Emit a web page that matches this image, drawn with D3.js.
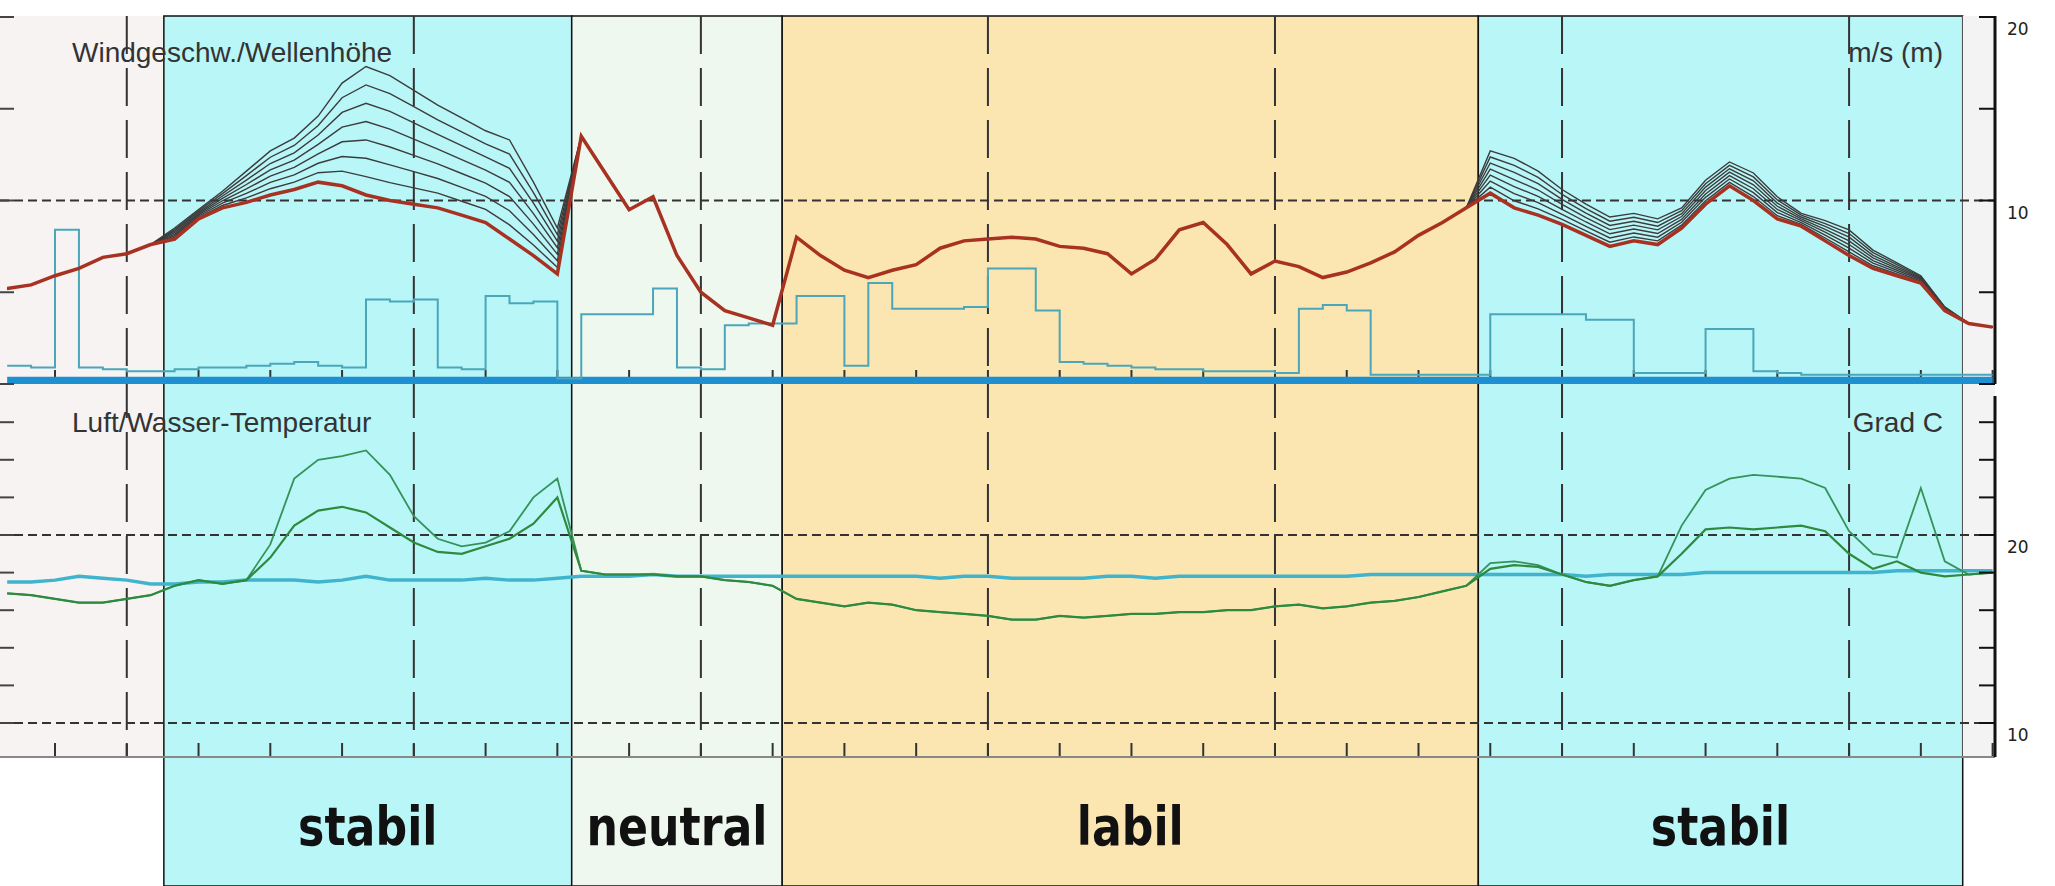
<!DOCTYPE html>
<html>
<head>
<meta charset="utf-8">
<script src="https://cdn.jsdelivr.net/npm/d3@7"></script>
<style>
  body { margin: 0; background: #fff; }
  svg { display: block; }
</style>
</head>
<body>
<div id="chart"></div>
<script>
// hours, every 2 h from -10 to 156 (midnight at 0, 24, 48 ...)
var hours = d3.range(-10, 157, 2);

// regimes
var regimes = [
  { name: "", start: -10.6, end: 3.1, fill: "#f7f3f3", box: false },
  { name: "stabil", start: 3.1, end: 37.2, fill: "#b9f6f8", box: true },
  { name: "neutral", start: 37.2, end: 54.8, fill: "#eef8ee", box: true },
  { name: "labil", start: 54.8, end: 113.0, fill: "#fbe6b2", box: true },
  { name: "stabil", start: 113.0, end: 153.5, fill: "#b9f6f8", box: true },
  { name: "", start: 153.5, end: 156.2, fill: "#f3f3f3", box: false }
];

// wind speed, lowest (red) level, m/s
var windRed = [5.2,5.4,5.9,6.3,6.9,7.1,7.6,7.9,9.0,9.6,9.9,10.3,10.6,11.0,10.8,10.3,10.0,9.8,9.6,9.2,8.8,7.9,7.0,6.0,
  13.5,11.5,9.5,10.2,7.0,5.0,4.0,3.6,3.2,
  8.0,7.0,6.2,5.8,6.2,6.5,7.4,7.8,7.9,8.0,7.9,7.5,7.4,7.1,6.0,6.8,8.4,8.8,7.6,6.0,6.7,6.4,5.8,6.1,6.6,7.2,8.1,8.8,9.6,
  10.4,9.6,9.2,8.7,8.1,7.5,7.8,7.6,8.5,9.8,10.8,10.0,9.0,8.6,7.8,7.0,6.3,5.9,5.5,4.0,3.3,3.1];
// wind speed, highest level, m/s
var windTop = [5.2,5.4,5.9,6.3,6.9,7.1,7.6,8.5,9.5,10.5,11.6,12.7,13.4,14.6,16.4,17.3,16.8,16.0,15.2,14.5,13.8,13.3,11.0,8.5,
  13.5,11.5,9.5,10.2,7.0,5.0,4.0,3.6,3.2,
  8.0,7.0,6.2,5.8,6.2,6.5,7.4,7.8,7.9,8.0,7.9,7.5,7.4,7.1,6.0,6.8,8.4,8.8,7.6,6.0,6.7,6.4,5.8,6.1,6.6,7.2,8.1,8.8,9.6,
  12.7,12.3,11.6,10.6,9.8,9.1,9.3,9.0,9.6,11.1,12.1,11.5,10.2,9.3,8.9,8.4,7.3,6.6,5.9,4.2,3.3,3.1];
// wave height, m
var wave = [1.0,0.9,8.4,0.9,0.8,0.7,0.7,0.8,0.9,0.9,1.0,1.1,1.2,1.0,0.9,4.6,4.5,4.6,0.9,0.8,4.8,4.4,4.5,0.3,
  3.8,3.8,3.8,5.2,0.9,0.8,3.2,3.3,3.3,
  4.8,4.8,1.0,5.5,4.1,4.1,4.1,4.2,6.3,6.3,4.0,1.2,1.1,1.0,0.9,0.8,0.8,0.7,0.7,0.7,0.6,4.1,4.3,4.0,0.5,0.5,0.5,0.5,0.5,
  3.8,3.8,3.8,3.8,3.5,3.5,0.6,0.6,0.6,3.0,3.0,0.7,0.6,0.5,0.5,0.5,0.5,0.5,0.5,0.5,0.5,0.5];
var windTicks = [0, 5, 10, 15, 20];
var windLabels = [10, 20];

// air temperature (two sensors) and water temperature, Grad C
var airLow = [16.9,16.8,16.6,16.4,16.4,16.6,16.8,17.3,17.6,17.4,17.6,18.8,20.5,21.3,21.5,21.2,20.4,19.6,19.1,19.0,19.4,19.8,20.6,22.0,
  18.1,17.9,17.9,17.9,17.8,17.8,17.6,17.5,17.3,
  16.6,16.4,16.2,16.4,16.3,16.0,15.9,15.8,15.7,15.5,15.5,15.7,15.6,15.7,15.8,15.8,15.9,15.9,16.0,16.0,16.2,16.3,16.1,16.2,16.4,16.5,16.7,17.0,17.3,
  18.2,18.4,18.3,17.9,17.5,17.3,17.6,17.8,19.0,20.3,20.4,20.3,20.4,20.5,20.2,19.0,18.2,18.6,18.0,17.8,17.9,18.0];
var airTop = [16.9,16.8,16.6,16.4,16.4,16.6,16.8,17.3,17.6,17.4,17.6,19.5,23.0,24.0,24.2,24.5,23.2,21.0,19.8,19.4,19.6,20.2,22.0,23.0,
  18.1,17.9,17.9,17.9,17.8,17.8,17.6,17.5,17.3,
  16.6,16.4,16.2,16.4,16.3,16.0,15.9,15.8,15.7,15.5,15.5,15.7,15.6,15.7,15.8,15.8,15.9,15.9,16.0,16.0,16.2,16.3,16.1,16.2,16.4,16.5,16.7,17.0,17.3,
  18.5,18.6,18.4,17.9,17.5,17.3,17.6,17.8,20.5,22.4,23.0,23.2,23.1,23.0,22.5,20.2,19.0,18.8,22.5,18.6,17.9,18.0];
var water = [17.5,17.5,17.6,17.8,17.7,17.6,17.4,17.4,17.5,17.5,17.6,17.6,17.6,17.5,17.6,17.8,17.6,17.6,17.6,17.6,17.7,17.6,17.6,17.7,
  17.8,17.8,17.8,17.9,17.8,17.8,17.8,17.8,17.8,
  17.8,17.8,17.8,17.8,17.8,17.8,17.7,17.8,17.8,17.7,17.7,17.7,17.7,17.8,17.8,17.7,17.8,17.8,17.8,17.8,17.8,17.8,17.8,17.8,17.9,17.9,17.9,17.9,17.9,
  17.9,17.9,17.9,17.9,17.8,17.9,17.9,17.9,17.9,18.0,18.0,18.0,18.0,18.0,18.0,18.0,18.0,18.1,18.1,18.1,18.1,18.1];
var tempTicks = [10, 12, 14, 16, 18, 20, 22, 24, 26];
var tempLabels = [10, 20];

var W = 2055, H = 886;
var plotRight = 1995;
var svg = d3.select("#chart").append("svg").attr("width", W).attr("height", H);

var x = d3.scaleLinear().domain([-10.6, 156.2]).range([0, plotRight]);
var yWind = d3.scaleLinear().domain([0, 20]).range([384, 17]);
var yTemp = d3.scaleLinear().domain([10, 20]).range([723, 535]);
var topA = 16, topB = 384, botA = 396, botB = 757;

// backgrounds
regimes.forEach(function (r) {
  svg.append("rect")
    .attr("x", x(r.start)).attr("y", topA)
    .attr("width", x(r.end) - x(r.start))
    .attr("height", (r.box ? H : botB) - topA)
    .style("fill", r.fill)
    .style("stroke", r.box ? "#111" : "none")
    .style("stroke-width", 1.5);
});

// day lines
d3.range(0, 157, 24).forEach(function (h) {
  svg.append("line").attr("x1", x(h)).attr("x2", x(h)).attr("y1", topA).attr("y2", botB)
    .style("stroke", "#333").style("stroke-width", 2).style("stroke-dasharray", "38,14");
});

// horizontal reference lines
[[yWind(10)], [yTemp(20)], [yTemp(10)]].forEach(function (d) {
  svg.append("line").attr("x1", 0).attr("x2", plotRight).attr("y1", d[0]).attr("y2", d[0])
    .style("stroke", "#333").style("stroke-width", 2).style("stroke-dasharray", "9,5");
});

// 6 h ticks at panel bottoms
d3.range(-6, 157, 6).forEach(function (h) {
  [topB, botB].forEach(function (yb) {
    svg.append("line").attr("x1", x(h)).attr("x2", x(h)).attr("y1", yb - 14).attr("y2", yb)
      .style("stroke", "#333").style("stroke-width", 2);
  });
});
svg.append("line").attr("x1", 0).attr("x2", plotRight).attr("y1", botB).attr("y2", botB)
  .style("stroke", "#888").style("stroke-width", 2);

// ----- wind panel -----
var pts = hours.map(function (h, i) { return { h: h, i: i }; });

// wave base band
svg.append("path")
  .attr("d", d3.area().x(function (d) { return x(d.h); }).y0(yWind(0)).y1(yWind(0.4))(pts))
  .style("fill", "#1e8fd0");

svg.append("path")
  .attr("d", d3.line().curve(d3.curveStepAfter)
    .x(function (d) { return x(d.h); }).y(function (d) { return yWind(wave[d.i]); })(pts))
  .style("fill", "none").style("stroke", "#4aa6b8").style("stroke-width", 2);

// bundle of wind levels between lowest and highest sensor
var levels = d3.range(7, -1, -1).map(function (k) { return k / 7; });
levels.forEach(function (f) {
  svg.append("path")
    .attr("d", d3.line()
      .x(function (d) { return x(d.h); })
      .y(function (d) { return yWind(windRed[d.i] + f * (windTop[d.i] - windRed[d.i])); })(pts))
    .style("fill", "none")
    .style("stroke", f === 0 ? "#a83222" : "#3c3c3c")
    .style("stroke-width", f === 0 ? 3.5 : 1.4);
});

// ----- temperature panel -----
function tline(arr, color, w) {
  svg.append("path")
    .attr("d", d3.line()
      .x(function (d) { return x(d.h); }).y(function (d) { return yTemp(arr[d.i]); })(pts))
    .style("fill", "none").style("stroke", color).style("stroke-width", w);
}
tline(water, "#3fb4cc", 3.5);
tline(airTop, "#35935a", 1.8);
tline(airLow, "#2e8a3e", 2.2);

// right axes
function rightAxis(scale, ticks, labels, a, b) {
  svg.append("line").attr("x1", plotRight).attr("x2", plotRight).attr("y1", a).attr("y2", b)
    .style("stroke", "#111").style("stroke-width", 3);
  ticks.forEach(function (t) {
    var yy = scale(t);
    if (yy < a - 1 || yy > b + 1) return;
    svg.append("line").attr("x1", plotRight - 16).attr("x2", plotRight).attr("y1", yy).attr("y2", yy)
      .style("stroke", "#111").style("stroke-width", 2);
    svg.append("line").attr("x1", 0).attr("x2", 14).attr("y1", yy).attr("y2", yy)
      .style("stroke", "#444").style("stroke-width", 2);
  });
  labels.forEach(function (t) {
    svg.append("text").attr("x", plotRight + 12).attr("y", scale(t) + 18)
      .text(t).style("font-family", "DejaVu Sans, sans-serif").style("font-size", "17px").style("fill", "#222");
  });
}
rightAxis(yWind, windTicks, windLabels, topA, topB);
rightAxis(yTemp, tempTicks, tempLabels, botA, botB);

// panel titles
function label(t, xx, yy, anchor) {
  svg.append("text").attr("x", xx).attr("y", yy).attr("text-anchor", anchor).text(t)
    .style("font-family", "Liberation Sans, Arial, sans-serif").style("font-size", "28px").style("fill", "#333");
}
label("Windgeschw./Wellenhöhe", 72, 62, "start");
label("m/s (m)", 1943, 62, "end");
label("Luft/Wasser-Temperatur", 72, 432, "start");
label("Grad C", 1943, 432, "end");

// regime names
regimes.filter(function (r) { return r.name; }).forEach(function (r) {
  var cx = (x(r.start) + x(r.end)) / 2;
  svg.append("text").attr("transform", "translate(" + cx + ",845) scale(0.82,1)")
    .attr("text-anchor", "middle").text(r.name)
    .style("font-family", "DejaVu Sans, sans-serif")
    .style("font-weight", "bold")
    .style("font-size", "54px").style("fill", "#111");
});
</script>
</body>
</html>
